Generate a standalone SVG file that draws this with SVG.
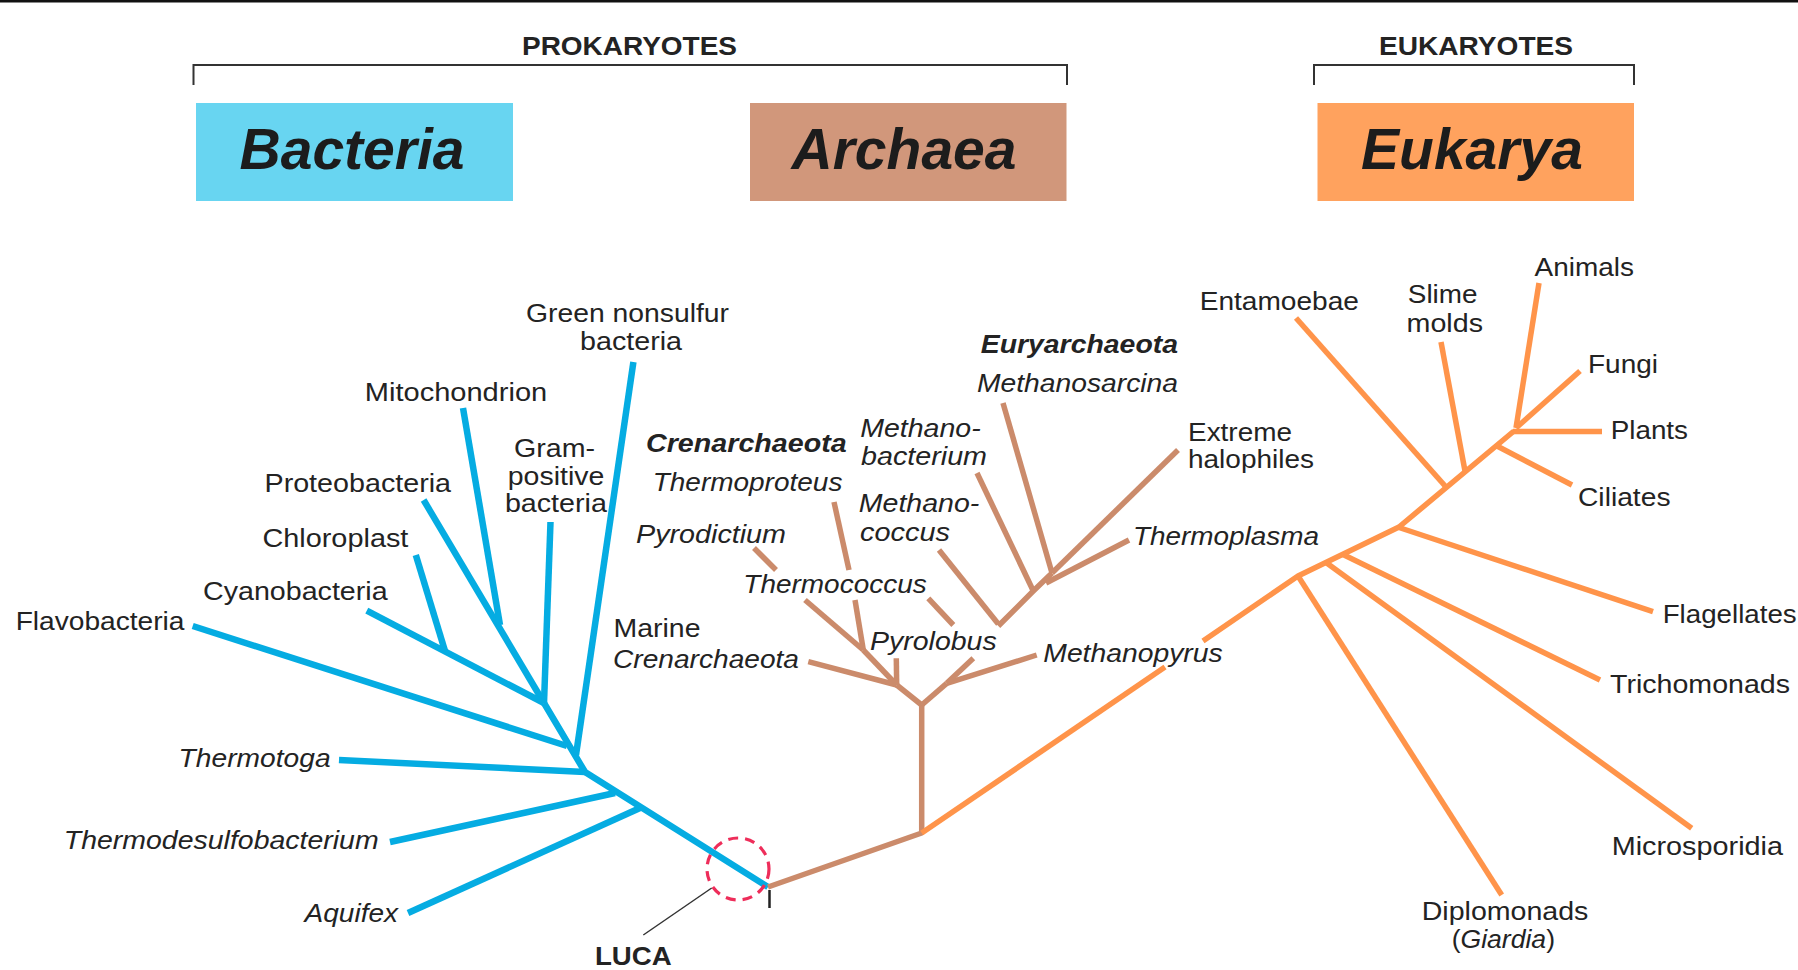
<svg xmlns="http://www.w3.org/2000/svg" width="1798" height="970" viewBox="0 0 1798 970">
<style>
text{font-family:"Liberation Sans",Arial,Helvetica,sans-serif;fill:#232323;font-size:26.5px}
.i{font-style:italic}
.b{font-weight:bold}
.hd{font-weight:bold;font-size:26px}
.big{font-weight:bold;font-style:italic;font-size:57px;fill:#1c1c1c}
.bl{stroke:#05ACE2;stroke-width:6.5;fill:none;stroke-linejoin:round}
.br{stroke:#CB8B6B;stroke-width:5.5;fill:none;stroke-linejoin:round}
.or{stroke:#FF944A;stroke-width:5.5;fill:none;stroke-linejoin:round}
.brk{stroke:#333;stroke-width:2;fill:none}
</style>
<rect x="0" y="0" width="1798" height="2.5" fill="#111"/>

<g id="prokaryotes">
<path class="brk" d="M193.5,85 V65 H1067 V85"/>
<text class="hd" x="629.5" y="55" text-anchor="middle" textLength="215" lengthAdjust="spacingAndGlyphs">PROKARYOTES</text>
</g>
<g id="eukaryotes">
<path class="brk" d="M1314,85 V65 H1634 V85"/>
<text class="hd" x="1476" y="55" text-anchor="middle" textLength="194" lengthAdjust="spacingAndGlyphs">EUKARYOTES</text>
</g>

<g id="bacteria-box">
<rect x="196" y="103" width="317" height="98" fill="#68D5F1"/>
<text class="big" x="352" y="169" text-anchor="middle">Bacteria</text>
</g>
<g id="archaea-box">
<rect x="750" y="103" width="316.5" height="98" fill="#D1977B"/>
<text class="big" x="904" y="169" text-anchor="middle">Archaea</text>
</g>
<g id="eukarya-box">
<rect x="1317.5" y="103" width="316.5" height="98" fill="#FFA25E"/>
<text class="big" x="1472" y="169" text-anchor="middle">Eukarya</text>
</g>

<g id="connectors">
<g id="bacteria-branches">
<polyline class="bl" points="768,887 585,772 544,703"/>
<line class="bl" x1="633.4" y1="362" x2="576" y2="755"/>
<line class="bl" x1="192.7" y1="626" x2="567" y2="746"/>
<line class="bl" x1="339" y1="760" x2="585" y2="772"/>
<line class="bl" x1="390" y1="842" x2="615" y2="793"/>
<line class="bl" x1="408" y1="913" x2="640" y2="808"/>
<line class="bl" x1="550.5" y1="522" x2="544" y2="703"/>
<line class="bl" x1="423.6" y1="500" x2="544" y2="703"/>
<line class="bl" x1="463" y1="408" x2="500" y2="625"/>
<line class="bl" x1="366.8" y1="610.7" x2="544" y2="703"/>
<line class="bl" x1="415.8" y1="555" x2="445" y2="651"/>
</g>
<g id="archaea-branches">
<polyline class="br" points="768,887 921.7,833 921.7,705"/>
<line class="br" x1="921.7" y1="705" x2="896.7" y2="685"/>
<line class="br" x1="921.7" y1="705" x2="946.7" y2="683.3"/>
<line class="br" x1="808.3" y1="661.7" x2="896.7" y2="685"/>
<line class="br" x1="896.3" y1="658.3" x2="896.7" y2="685"/>
<line class="br" x1="896.7" y1="685" x2="863.3" y2="650"/>
<line class="br" x1="754" y1="548" x2="776" y2="570"/>
<line class="br" x1="805" y1="600" x2="863.3" y2="650"/>
<line class="br" x1="834" y1="502" x2="849" y2="570"/>
<line class="br" x1="855" y1="600" x2="863.3" y2="650"/>
<line class="br" x1="946.7" y1="683.3" x2="1036.7" y2="655"/>
<line class="br" x1="946.7" y1="683.3" x2="973.3" y2="658.3"/>
<polyline class="br" points="998.3,626 1033.3,591 1052,573"/>
<line class="br" x1="939" y1="550" x2="998.3" y2="624"/>
<line class="br" x1="928.3" y1="598.3" x2="953.3" y2="625"/>
<line class="br" x1="977" y1="473" x2="1033.3" y2="591"/>
<line class="br" x1="1003" y1="403" x2="1052" y2="573"/>
<line class="br" x1="1178" y1="450" x2="1052" y2="573"/>
<line class="br" x1="1129" y1="540" x2="1046" y2="583"/>
</g>
<g id="eukarya-branches">
<line class="or" x1="921.7" y1="833" x2="1165" y2="667"/>
<polyline class="or" points="1203,641 1298,576 1399,527 1514,431"/>
<line class="or" x1="1298" y1="576" x2="1501.7" y2="895"/>
<line class="or" x1="1326" y1="562.5" x2="1691.7" y2="828.3"/>
<line class="or" x1="1343" y1="554.5" x2="1600" y2="680"/>
<line class="or" x1="1399" y1="527.5" x2="1653" y2="611.7"/>
<line class="or" x1="1296" y1="318" x2="1446" y2="487"/>
<line class="or" x1="1441" y1="342" x2="1465" y2="471"/>
<line class="or" x1="1497" y1="446" x2="1572" y2="485"/>
<line class="or" x1="1513" y1="431.5" x2="1602" y2="431.5"/>
<line class="or" x1="1580" y1="371" x2="1516" y2="428"/>
<line class="or" x1="1539" y1="283" x2="1516" y2="428"/>
</g>
<g id="luca-marker">
<circle cx="738" cy="869" r="31" fill="none" stroke="#EE2D5A" stroke-width="3.2" stroke-dasharray="10 7"/>
<line x1="769.5" y1="890" x2="769.5" y2="908" stroke="#222" stroke-width="2.5"/>
<line x1="711.7" y1="888" x2="643.3" y2="935" stroke="#333" stroke-width="1.5"/>
</g>
</g>

<g id="luca"><text class="b" x="595" y="965" textLength="76.7" lengthAdjust="spacingAndGlyphs">LUCA</text></g>

<g id="green-nonsulfur">
<text x="526" y="322" textLength="203" lengthAdjust="spacingAndGlyphs">Green nonsulfur</text>
<text x="580" y="350" textLength="102" lengthAdjust="spacingAndGlyphs">bacteria</text>
</g>
<g id="mitochondrion"><text x="364.8" y="400.7" textLength="182.4" lengthAdjust="spacingAndGlyphs">Mitochondrion</text></g>
<g id="gram-positive">
<text x="514" y="456.7" textLength="81" lengthAdjust="spacingAndGlyphs">Gram-</text>
<text x="507.8" y="485" textLength="96.5" lengthAdjust="spacingAndGlyphs">positive</text>
<text x="504.9" y="511.7" textLength="102" lengthAdjust="spacingAndGlyphs">bacteria</text>
</g>
<g id="proteobacteria"><text x="264.5" y="491.7" textLength="186.5" lengthAdjust="spacingAndGlyphs">Proteobacteria</text></g>
<g id="chloroplast"><text x="262.4" y="546.7" textLength="146" lengthAdjust="spacingAndGlyphs">Chloroplast</text></g>
<g id="cyanobacteria"><text x="203" y="600" textLength="184.6" lengthAdjust="spacingAndGlyphs">Cyanobacteria</text></g>
<g id="flavobacteria"><text x="15.7" y="630" textLength="168.8" lengthAdjust="spacingAndGlyphs">Flavobacteria</text></g>
<g id="thermotoga"><text class="i" x="178.6" y="766.7" textLength="152" lengthAdjust="spacingAndGlyphs">Thermotoga</text></g>
<g id="thermodesulfobacterium"><text class="i" x="63.8" y="849" textLength="314.8" lengthAdjust="spacingAndGlyphs">Thermodesulfobacterium</text></g>
<g id="aquifex"><text class="i" x="304.6" y="921.7" textLength="93.4" lengthAdjust="spacingAndGlyphs">Aquifex</text></g>

<g id="crenarchaeota-group"><text class="b i" x="646" y="451.7" textLength="200.7" lengthAdjust="spacingAndGlyphs">Crenarchaeota</text></g>
<g id="thermoproteus"><text class="i" x="652.7" y="491" textLength="189.7" lengthAdjust="spacingAndGlyphs">Thermoproteus</text></g>
<g id="pyrodictium"><text class="i" x="636" y="542.7" textLength="150" lengthAdjust="spacingAndGlyphs">Pyrodictium</text></g>
<g id="methanobacterium">
<text class="i" x="860.2" y="437" textLength="120.5" lengthAdjust="spacingAndGlyphs">Methano-</text>
<text class="i" x="861" y="464.5" textLength="126" lengthAdjust="spacingAndGlyphs">bacterium</text>
</g>
<g id="methanococcus">
<text class="i" x="858.8" y="512" textLength="120.5" lengthAdjust="spacingAndGlyphs">Methano-</text>
<text class="i" x="860" y="540.7" textLength="90" lengthAdjust="spacingAndGlyphs">coccus</text>
</g>
<g id="euryarchaeota-group"><text class="b i" x="980.7" y="353" textLength="197.3" lengthAdjust="spacingAndGlyphs">Euryarchaeota</text></g>
<g id="methanosarcina"><text class="i" x="977" y="391.7" textLength="201" lengthAdjust="spacingAndGlyphs">Methanosarcina</text></g>
<g id="extreme-halophiles">
<text x="1188" y="440.7" textLength="104" lengthAdjust="spacingAndGlyphs">Extreme</text>
<text x="1188" y="468" textLength="126" lengthAdjust="spacingAndGlyphs">halophiles</text>
</g>
<g id="thermoplasma"><text class="i" x="1133" y="545" textLength="186" lengthAdjust="spacingAndGlyphs">Thermoplasma</text></g>
<g id="thermococcus"><text class="i" x="743.3" y="593.3" textLength="183.4" lengthAdjust="spacingAndGlyphs">Thermococcus</text></g>
<g id="marine-crenarchaeota">
<text x="613.5" y="636.7" textLength="87" lengthAdjust="spacingAndGlyphs">Marine</text>
<text class="i" x="613" y="668" textLength="186" lengthAdjust="spacingAndGlyphs">Crenarchaeota</text>
</g>
<g id="pyrolobus"><text class="i" x="870" y="650" textLength="126.7" lengthAdjust="spacingAndGlyphs">Pyrolobus</text></g>
<g id="methanopyrus"><text class="i" x="1043.3" y="661.7" textLength="179.4" lengthAdjust="spacingAndGlyphs">Methanopyrus</text></g>

<g id="entamoebae"><text x="1199.7" y="310" textLength="159.3" lengthAdjust="spacingAndGlyphs">Entamoebae</text></g>
<g id="slime-molds">
<text x="1407.8" y="303" textLength="69.7" lengthAdjust="spacingAndGlyphs">Slime</text>
<text x="1406.6" y="331.7" textLength="76.4" lengthAdjust="spacingAndGlyphs">molds</text>
</g>
<g id="animals"><text x="1534.6" y="276" textLength="99.4" lengthAdjust="spacingAndGlyphs">Animals</text></g>
<g id="fungi"><text x="1588" y="373" textLength="70" lengthAdjust="spacingAndGlyphs">Fungi</text></g>
<g id="plants"><text x="1610.7" y="439" textLength="77.3" lengthAdjust="spacingAndGlyphs">Plants</text></g>
<g id="ciliates"><text x="1578" y="506" textLength="92.5" lengthAdjust="spacingAndGlyphs">Ciliates</text></g>
<g id="flagellates"><text x="1662.7" y="623.3" textLength="134" lengthAdjust="spacingAndGlyphs">Flagellates</text></g>
<g id="trichomonads"><text x="1610" y="693.3" textLength="180" lengthAdjust="spacingAndGlyphs">Trichomonads</text></g>
<g id="microsporidia"><text x="1611.7" y="855" textLength="171.3" lengthAdjust="spacingAndGlyphs">Microsporidia</text></g>
<g id="diplomonads">
<text x="1421.7" y="920" textLength="166.7" lengthAdjust="spacingAndGlyphs">Diplomonads</text>
<text x="1451.7" y="948.3" textLength="103.3" lengthAdjust="spacingAndGlyphs">(<tspan class="i">Giardia</tspan>)</text>
</g>
</svg>
